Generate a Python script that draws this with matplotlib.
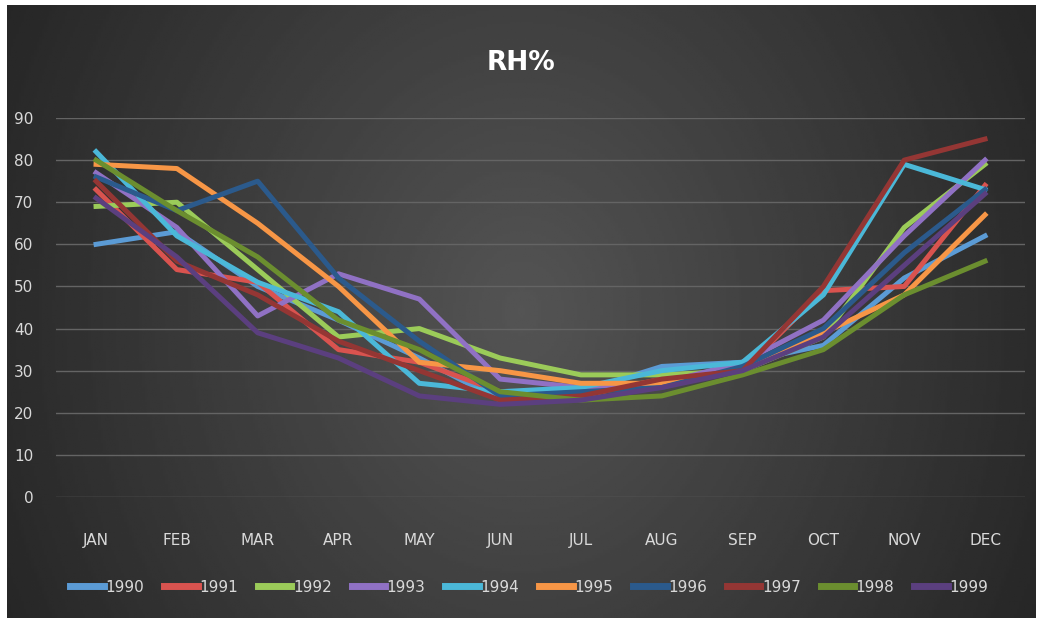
import numpy as np
import matplotlib.pyplot as plt

# Monthly relative humidity (%)
months = ['JAN', 'FEB', 'MAR', 'APR', 'MAY', 'JUN', 'JUL', 'AUG', 'SEP', 'OCT', 'NOV', 'DEC']
years = ['1990', '1991', '1992', '1993', '1994', '1995', '1996', '1997', '1998', '1999']

rh_1990 = [60, 63, 50, 42, 33, 23, 25, 31, 32, 36, 52, 62]
rh_1991 = [73, 54, 51, 35, 32, 25, 24, 28, 30, 49, 50, 74]
rh_1992 = [69, 70, 54, 38, 40, 33, 29, 29, 30, 38, 64, 79]
rh_1993 = [77, 64, 43, 53, 47, 28, 26, 27, 32, 42, 62, 80]
rh_1994 = [82, 62, 51, 44, 27, 25, 26, 30, 32, 48, 79, 73]
rh_1995 = [79, 78, 65, 50, 32, 30, 27, 27, 30, 39, 48, 67]
rh_1996 = [76, 68, 75, 52, 37, 24, 25, 26, 31, 40, 58, 73]
rh_1997 = [75, 56, 48, 37, 30, 23, 24, 28, 30, 50, 80, 85]
rh_1998 = [80, 68, 57, 42, 35, 25, 23, 24, 29, 35, 48, 56]
rh_1999 = [71, 57, 39, 33, 24, 22, 23, 26, 30, 38, 55, 72]

series = [rh_1990, rh_1991, rh_1992, rh_1993, rh_1994,
          rh_1995, rh_1996, rh_1997, rh_1998, rh_1999]
colors = ['#5b9bd5', '#d9534f', '#9bcb59', '#9071c4', '#4bb8d8',
          '#f79646', '#2b5a8c', '#943634', '#6b8e2f', '#5b3f7f']

font = ['Liberation Sans Narrow', 'DejaVu Sans']
txt = '#d9d9d9'

fig = plt.figure(figsize=(10.42, 6.28), dpi=100, facecolor='white')

# dark gradient background of the chart area
bg = fig.add_axes([7/1042, 10/628, 1029/1042, 613/628])
gx, gy = np.meshgrid(np.linspace(-1, 1, 400), np.linspace(-1, 1, 240))
r = np.sqrt(gx**2 + (0.5*gy)**2)
bg.imshow(0.33 - 0.16*np.clip(r, 0, 1.2), cmap='gray', vmin=0, vmax=1,
          aspect='auto', extent=[0, 1, 0, 1])
bg.axis('off')

ax = fig.add_axes([0.0534, 0.2086, 0.9307, 0.6035])
ax.patch.set_alpha(0)
x = np.arange(len(months))
for vals, yr, c in zip(series, years, colors):
    ax.plot(x, vals, color=c, lw=3.6, label=yr, solid_joinstyle='round')

ax.set_xlim(-0.5, len(months) - 0.5)
ax.set_ylim(0, 90)
ax.set_yticks(np.arange(0, 91, 10))
ax.set_xticks(x)
ax.set_xticklabels(months)
ax.grid(axis='y', color='#646464', lw=1)
ax.set_axisbelow(True)
for s in ax.spines.values():
    s.set_visible(False)
ax.tick_params(length=0, colors=txt, labelsize=11)
ax.tick_params(axis='x', pad=26)
ax.tick_params(axis='y', pad=16)
for lab in ax.get_xticklabels() + ax.get_yticklabels():
    lab.set_family(font)

fig.text(0.5, 0.9, 'RH%', color='white', fontsize=19, fontweight='bold',
         ha='center', va='center', family=font)

leg = fig.legend(loc='center', bbox_to_anchor=(0.508, 0.065), ncol=10,
                 frameon=False, handlelength=2.2, handletextpad=0.1,
                 columnspacing=1.3, prop={'family': font, 'size': 11})
for t in leg.get_texts():
    t.set_color(txt)
for h in leg.get_lines():
    h.set_linewidth(5)

fig.savefig('out.png', dpi=100, facecolor='white')
